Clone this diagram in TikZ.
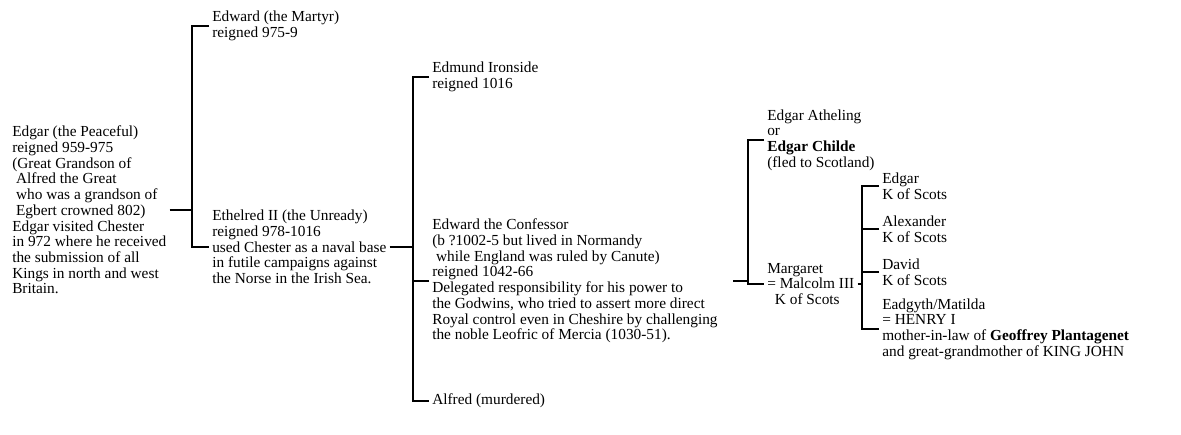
\documentclass[tikz,border=0pt]{standalone}
\usepackage{fontspec}
\setmainfont{Liberation Serif}
\begin{document}
\begin{tikzpicture}[x=0.75pt,y=-0.75pt,
  person/.style={anchor=west, align=left, inner xsep=2.25pt, inner ysep=0pt,
    font=\fontsize{11.5}{11.8}\selectfont},
  link/.style={line width=1.5pt}]
\useasboundingbox (0,0) rectangle (1181,435);
% nodes
\node[person] (edgar) at (9,210) {Edgar (the Peaceful)\\reigned 959-975\\(Great Grandson of\\\hspace*{.25em}Alfred the Great\\\hspace*{.25em}who was a grandson of\\\hspace*{.25em}Egbert crowned 802)\\Edgar visited Chester\\in 972 where he received\\the submission of all\\Kings in north and west\\Britain.};
\node[person] (martyr) at (209,26) {Edward (the Martyr)\\reigned 975-9};
\node[person] (ethelred) at (209,247) {Ethelred II (the Unready)\\reigned 978-1016\\used Chester as a naval base\\in futile campaigns against\\the Norse in the Irish Sea.};
\node[person] (edmund) at (429,77) {Edmund Ironside\\reigned 1016};
\node[person] (confessor) at (429,281) {Edward the Confessor\\(b ?1002-5 but lived in Normandy\\\hspace*{.25em}while England was ruled by Canute)\\reigned 1042-66\\Delegated responsibility for his power to\\the Godwins, who tried to assert more direct\\Royal control even in Cheshire by challenging\\the noble Leofric of Mercia (1030-51).};
\node[person] (alfred) at (429,401) {Alfred (murdered)};
\node[person] (atheling) at (764,140) {Edgar Atheling\\or\\\textbf{Edgar Childe}\\(fled to Scotland)};
\node[person] (margaret) at (764,284) {Margaret\\= Malcolm III\\\hspace*{.5em}K of Scots};
\node[person] (edgark) at (879,186) {Edgar\\K of Scots};
\node[person] (alexander) at (879,229) {Alexander\\K of Scots};
\node[person] (david) at (879,272) {David\\K of Scots};
\node[person] (eadgyth) at (879,329) {Eadgyth/Matilda\\= HENRY I\\mother-in-law of \textbf{Geoffrey Plantagenet}\\and great-grandmother of KING JOHN};
% joints
\coordinate (j1) at (192,210);
\coordinate (j2) at (413,247);
\coordinate (cR) at (733,281);
\coordinate (j3) at (748,281);
\coordinate (j4) at (862,284);
% connectors
\draw[link] (edgar.east) -- (j1);
\draw[link] (martyr.west) -| (j1) |- (ethelred.west);
\draw[link] (ethelred.east) -- (j2);
\draw[link] (edmund.west) -| (j2) |- (alfred.west);
\draw[link] (confessor.west) -- (confessor.west -| j2);
\draw[link] (cR) -- (j3);
\draw[link] (atheling.west) -| (j3) |- (margaret.west);
\draw[link] (margaret.east) -- (j4);
\draw[link] (edgark.west) -| (j4) |- (eadgyth.west);
\draw[link] (alexander.west) -- (alexander.west -| j4);
\draw[link] (david.west) -- (david.west -| j4);
\end{tikzpicture}
\end{document}
